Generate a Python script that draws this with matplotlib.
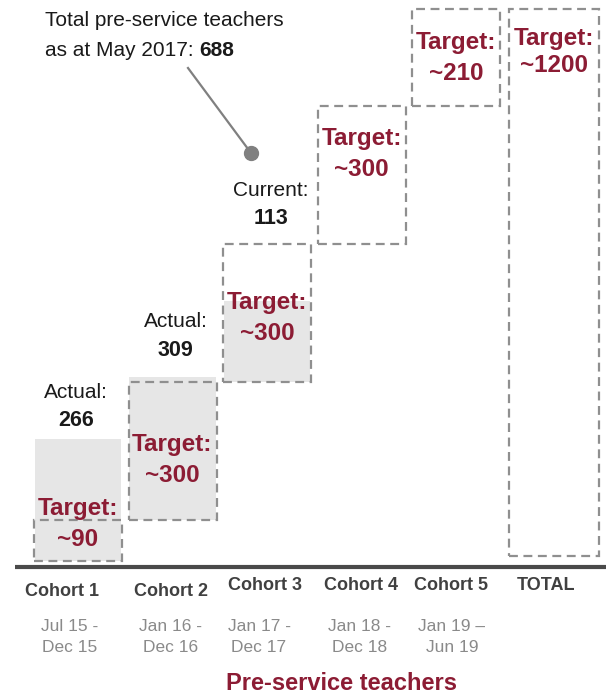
import matplotlib
matplotlib.use("Agg")
import matplotlib.pyplot as plt
from matplotlib.patches import Rectangle
import numpy as np

plt.rcParams["font.family"] = ["Liberation Sans", "DejaVu Sans"]

# data
cohorts = ["Cohort 1", "Cohort 2", "Cohort 3", "Cohort 4", "Cohort 5"]
periods = ["Jul 15 -\nDec 15", "Jan 16 -\nDec 16", "Jan 17 -\nDec 17",
           "Jan 18 -\nDec 18", "Jan 19 –\nJun 19"]
targets = [90, 300, 300, 300, 210]
total_target = 1200
actual_kind = ["Actual:", "Actual:", "Current:"]
actual_values = [266, 309, 113]
actual_bars = [266, 309, 175]   # grey bar heights as drawn in the picture
total_to_date = 688

RED = "#8c1c34"
DASH = "#8f8f8f"
FILL = "#e6e6e6"

# layout: 1 data unit in x = one cohort slot, y in teachers
PX_X = 94.5          # pixels per cohort slot
X0 = 78              # pixel centre of cohort 1
BASE = 561           # pixel row of value 0
SY = 0.46            # pixels per teacher


def dy(p):
    """pixel row -> data y"""
    return (BASE - p) / SY


def dx(p):
    return (p - X0) / PX_X


fig = plt.figure(figsize=(6.06, 6.98), dpi=100)
ax = fig.add_axes([0, 0, 1, 1])
ax.set_xlim(dx(0), dx(606))
ax.set_ylim(dy(698), dy(0))
ax.axis("off")

width = 88 / PX_X
xs = np.arange(len(cohorts), dtype=float)
x_total = dx(554)
bottoms = np.concatenate([[0], np.cumsum(targets)[:-1]])

# grey actual bars
for i, h in enumerate(actual_bars):
    b = 0 if i == 0 else bottoms[i]
    ax.bar(xs[i], h, width=width - 0.02, bottom=b, color=FILL, zorder=1)


def dashed_box(x, b, h, w=width):
    r = Rectangle((x - w / 2, b), w, h, fill=False, edgecolor=DASH,
                  linewidth=1.6, linestyle=(0, (4, 2.5)), zorder=3)
    ax.add_patch(r)


for i, t in enumerate(targets):
    dashed_box(xs[i], bottoms[i], t)
total_bottom = dy(556)
dashed_box(x_total, total_bottom, total_target - total_bottom, w=90 / PX_X)

# target labels
target_py = [508, 445, 302, 138, 42]
for i, t in enumerate(targets):
    ax.text(xs[i], dy(target_py[i]), "Target:", color=RED, fontsize=17.5,
            fontweight="bold", ha="center", va="center", zorder=4)
    ax.text(xs[i], dy(target_py[i] + 31), f"~{t}", color=RED, fontsize=17.5,
            fontweight="bold", ha="center", va="center", zorder=4)
ax.text(x_total, dy(38), "Target:", color=RED, fontsize=17.5,
        fontweight="bold", ha="center", va="center")
ax.text(x_total, dy(66), f"~{total_target}", color=RED, fontsize=17.5,
        fontweight="bold", ha="center", va="center")

# actual labels
actual_py = [393, 322, 190]
actual_dx = [-2, 3, 4]
for i, v in enumerate(actual_values):
    x = xs[i] + actual_dx[i] / PX_X
    ax.text(x, dy(actual_py[i]), actual_kind[i], fontsize=15,
            ha="center", va="center", color="#1a1a1a")
    ax.text(x, dy(actual_py[i] + 28), str(v), fontsize=15.5, fontweight="bold",
            ha="center", va="center", color="#1a1a1a")

# annotation for total to date
ax.plot([dx(188), dx(251)], [dy(68), dy(153)], color="#808080", lw=1.6)
ax.plot([dx(251)], [dy(153)], "o", color="#808080", markersize=10)
ax.text(dx(45), dy(20), "Total pre-service teachers", fontsize=15,
        ha="left", va="center", color="#1a1a1a")
t = ax.text(dx(45), dy(50), "as at May 2017: ", fontsize=15,
            ha="left", va="center", color="#1a1a1a")
ax.annotate(str(total_to_date), xy=(1, 0.5), xycoords=t, fontsize=15,
            fontweight="bold", ha="left", va="center", color="#1a1a1a")

# baseline
ax.plot([dx(15), dx(606)], [dy(567), dy(567)], color="#4a4a4a", lw=3,
        solid_capstyle="butt")

# category labels
label_shift = [-16, -2, -2, -1, -5]
label_py = [591, 591, 586, 586, 586]
date_shift = [-8, -2, -8, -2, -4]
for i, c in enumerate(cohorts):
    ax.text(xs[i] + label_shift[i] / PX_X, dy(label_py[i]), c, fontsize=13,
            fontweight="bold", ha="center", va="center", color="#404040")
    ax.text(xs[i] + date_shift[i] / PX_X, dy(637), periods[i], fontsize=12.5,
            ha="center", va="center", color="#8a8a8a", linespacing=1.45)
ax.text(dx(546), dy(585), "TOTAL", fontsize=13, fontweight="bold",
        ha="center", va="center", color="#404040")

ax.text(dx(341), dy(684), "Pre-service teachers", fontsize=17, fontweight="bold",
        ha="center", va="center", color=RED)

fig.savefig("out.png", dpi=100)
